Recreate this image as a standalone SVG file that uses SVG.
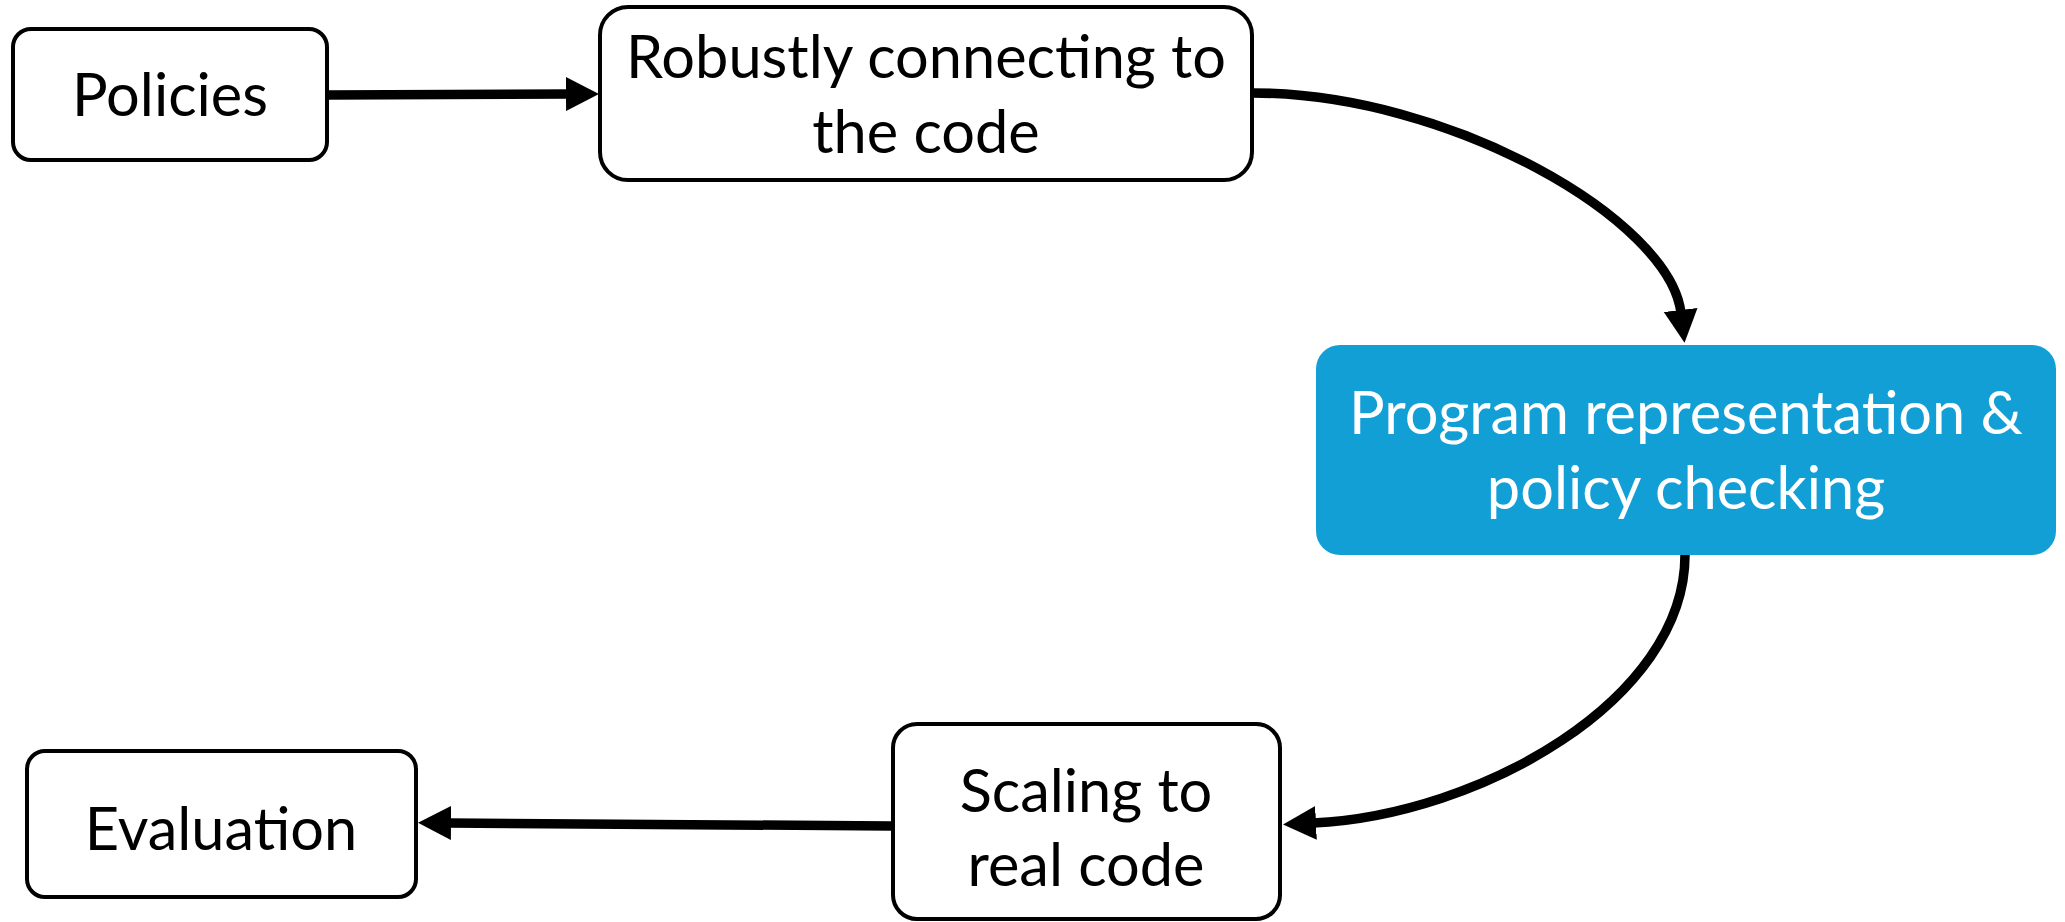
<svg xmlns="http://www.w3.org/2000/svg" width="2065" height="922" viewBox="0 0 2065 922">
<style>
.box{fill:#fff;stroke:#000;stroke-width:4}
.blue{fill:#129fd6;stroke:none}
.t{font-family:Lato,"Open Sans",sans-serif;font-size:59.5px;text-anchor:middle;fill:#000}
.tw{fill:#fff}
.c{fill:none;stroke:#000;stroke-width:9.5}
</style>
<defs>
<marker id="ah" markerUnits="userSpaceOnUse" markerWidth="36" markerHeight="36" viewBox="0 0 36 36" refX="3" refY="17" orient="auto">
<path d="M0,0 L33,17 L0,34 z" fill="#000"/>
</marker>
</defs>
<rect width="2065" height="922" fill="#fff"/>
<g id="connectors">
<path class="c" d="M328,95 L569,94" marker-end="url(#ah)"/>
<path class="c" d="M1253,93 C1450,93 1670,220 1681,313" marker-end="url(#ah)"/>
<path class="c" d="M1685,555 C1685,700 1480,815 1313,823" marker-end="url(#ah)"/>
<path class="c" d="M892,826 L448,823" marker-end="url(#ah)"/>
</g>
<g id="policies">
<rect class="box" x="13" y="29" width="314" height="131" rx="18"/>
<text class="t" x="170" y="116">Policies</text>
</g>
<g id="robustly">
<rect class="box" x="600" y="7" width="652" height="173" rx="28"/>
<text class="t" x="926" y="78">Robustly connecting to</text>
<text class="t" x="926" y="153">the code</text>
</g>
<g id="program">
<rect class="blue" x="1316" y="345" width="740" height="210" rx="24"/>
<text class="t tw" x="1686" y="434">Program representation &amp;</text>
<text class="t tw" x="1686" y="509">policy checking</text>
</g>
<g id="scaling">
<rect class="box" x="893" y="724" width="387" height="195" rx="24"/>
<text class="t" x="1086" y="812">Scaling to</text>
<text class="t" x="1086" y="886">real code</text>
</g>
<g id="evaluation">
<rect class="box" x="27" y="751" width="389" height="146" rx="18"/>
<text class="t" x="221" y="850">Evaluation</text>
</g>
</svg>
